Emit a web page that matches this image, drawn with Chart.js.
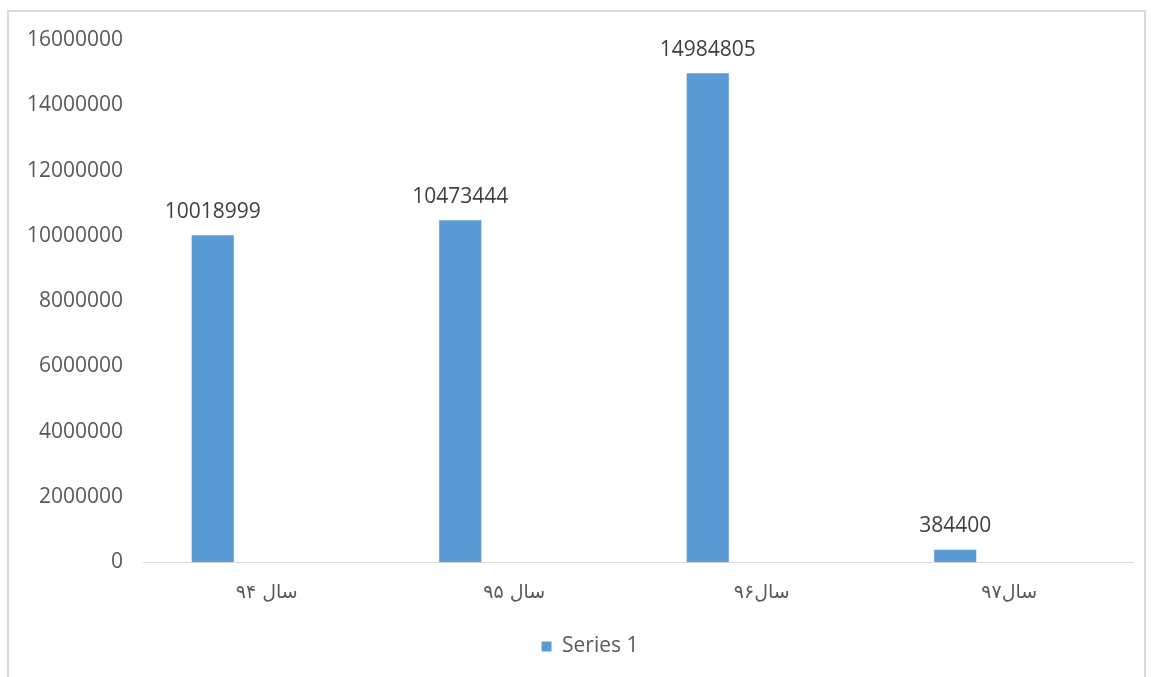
<!DOCTYPE html>
<html>
<head>
<meta charset="utf-8">
<script src="https://cdn.jsdelivr.net/npm/chart.js@4/dist/chart.umd.min.js"></script>
<style>
  html, body { margin: 0; padding: 0; background: #ffffff; }
  #wrap { position: relative; width: 1151px; height: 677px; overflow: hidden; }
  #frame { position: absolute; left: 7px; top: 10px; width: 1139px; height: 720px; border: 2px solid #d9d9d9; box-sizing: border-box; pointer-events: none; }
  canvas { position: absolute; left: 0; top: 0; }
</style>
</head>
<body>
<div id="wrap">
  <canvas id="c" width="1151" height="677"></canvas>
  <div id="frame"></div>
</div>
<script>
const categories = ["سال ۹۴", "سال ۹۵", "سال۹۶", "سال۹۷"];
const series1 = [10018999, 10473444, 14984805, 384400];
const series2 = [null, null, null, null];
const series3 = [null, null, null, null];
const yTicksMax = 16000000;
const yTickStep = 2000000;

const valueLabels = {
  id: 'valueLabels',
  afterDatasetsDraw(chart) {
    const ctx = chart.ctx;
    const meta = chart.getDatasetMeta(0);
    ctx.save();
    ctx.font = '21px "Open Sans", "DejaVu Sans", sans-serif';
    ctx.fillStyle = '#404040';
    ctx.textAlign = 'center';
    ctx.textBaseline = 'bottom';
    meta.data.forEach((bar, i) => {
      const v = chart.data.datasets[0].data[i];
      if (v == null) return;
      ctx.fillText(String(v), bar.x, bar.y - 13);
    });
    ctx.restore();
  }
};

// centre the legend a little to the right, as in the original
const legendShift = {
  id: 'legendShift',
  afterLayout(chart) {
    if (chart.legend) {
      chart.legend.left += 40;
    }
  }
};

new Chart(document.getElementById('c'), {
  type: 'bar',
  data: {
    labels: categories,
    datasets: [
      { label: 'Series 1', data: series1, backgroundColor: '#5b9bd5', categoryPercentage: 0.655, barPercentage: 0.78 },
      { label: 'Series 2', data: series2, backgroundColor: '#ed7d31', categoryPercentage: 0.655, barPercentage: 0.78 },
      { label: 'Series 3', data: series3, backgroundColor: '#a5a5a5', categoryPercentage: 0.655, barPercentage: 0.78 }
    ]
  },
  options: {
    responsive: false,
    animation: false,
    layout: { padding: { left: 7, right: 18, top: 40, bottom: 10 } },
    plugins: {
      legend: {
        position: 'bottom',
        labels: {
          filter: (item) => item.datasetIndex === 0,
          boxWidth: 10, boxHeight: 10,
          color: '#595959',
          font: { family: '"Open Sans", "DejaVu Sans", sans-serif', size: 21 },
          padding: 19
        }
      },
      tooltip: { enabled: false }
    },
    scales: {
      x: {
        grid: { display: false, drawTicks: false },
        border: { display: true, color: '#d9d9d9', width: 1 },
        ticks: { color: '#595959', padding: 19, font: { family: '"DejaVu Sans", sans-serif', size: 19 } },
        afterFit: (scale) => { scale.height = scale.height - 6; }
      },
      y: {
        min: 0, max: yTicksMax,
        grid: { display: false, drawTicks: false },
        border: { display: false },
        ticks: { stepSize: yTickStep, color: '#595959', padding: 20, font: { family: '"Open Sans", sans-serif', size: 21 },
                 callback: (v) => String(v) }
      }
    }
  },
  plugins: [valueLabels, legendShift]
});
</script>
</body>
</html>
